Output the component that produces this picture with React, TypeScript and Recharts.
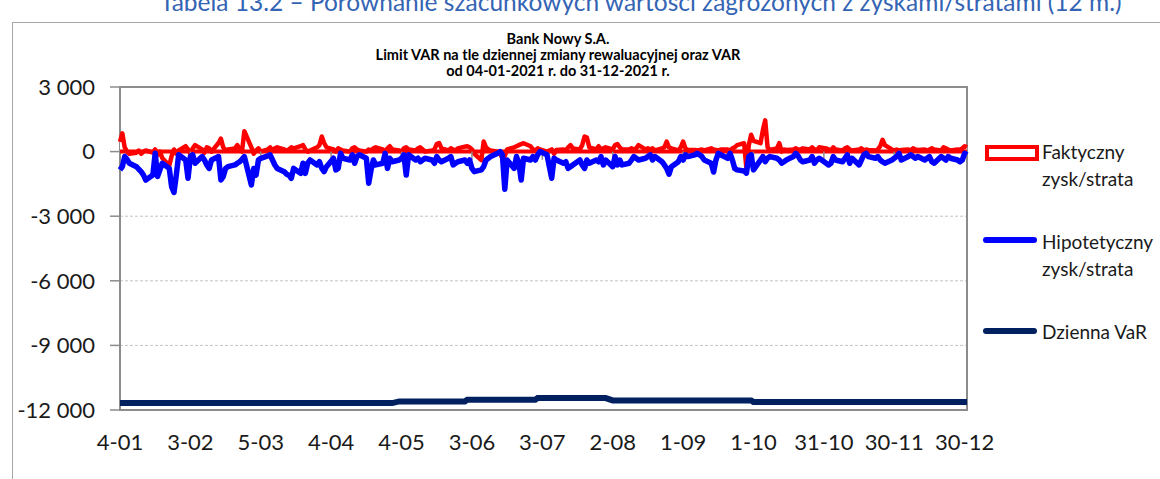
import React from 'react';
import {
  ComposedChart,
  Line,
  Area,
  XAxis,
  YAxis,
  CartesianGrid,
  ReferenceLine,
  ReferenceArea,
} from 'recharts';

// Faktyczny zysk/strata – daily values (weekdays 04-01-2021 … 31-12-2021)
const faktyczny: number[] = [
  450, 850, 200, 0, -100, -50, 50, -100, 0, 50, -50, 100, -150, 0, -300, -650, -200, 100, -100, 50,
  250, 100, -100, 150, 300, 100, -50, 200, 150, 0, 400, 600, 200, 50, 100, 150, 300, 100, 0, 950,
  200, -100, 50, 150, 0, 100, 200, 50, 150, 200, 100, 50,
  100, 200, 150, 250, 300, 100, 0, 50, 200, 300, 700, 400, 200, 100, 0, 150, 100, 50, 0, 150,
  200, 100, 50, 0, 100, 50, 150, 200, 100, 0, 150, 250, 100, 50, 0, 150, 200, 100, 50, 150,
  200, 100, 0, 50, 100, 350, 400, 150, 50, 150, 100, 50, 150,
  230, 250, 200, 100, -100, -400, 470, 200, 100, 50, 0, -100, -300, -200, 100, 200, 250, 300, 350, 390,
  250, 100, 50, 150, 100, 0, 50, 100, -100, 80, 100, 50, 200, 300, 150, 100, 300, 700, 650, 200,
  100, 250, 100, 150, 200, 100, 300, 350, 200, 100,
  100, 150, 100, 150, 300, 100, 150, 100, 150, 50, 150, 200, 470, 200, 150, 50, 200, 470, 150, 80,
  80, 50, 80, 100, 50, 150, 100, 80, 50, 100, 100, 50, 150, 200, 300, 390, -800, 300, 780, 500,
  390, 1000, 1450, 200, 80, 150, 390, 0, 100, 80, 100, 150, 100,
  100, 150, 100, 200, 100, 50, 200, 150, 100, 50, 200, 100, 50, 150, 200, 100, 50, 100, 150, 50,
  100, 80, 50, 100, 250, 550, 300, 100, 50, 100, 50, 80, 100, 50, 150, 100, 80, 100, 50, 100,
  150, 100, 50, 200, 150, 100, 50, 100, 80, 150, 250, 200,
];

// Hipotetyczny zysk/strata
const hipotetyczny: number[] = [
  -850, -700, -230, -360, -540, -700, -820, -930, -1090, -1320, -1090, -80, -1160, -850, -540, -780, -1630, -1900, -1090, -150,
  -390, -1240, -230, -150, -540, -230, -390, -620, -780, -390, -230, -1320, -1160, -780, -700, -620, -540, -470, -360, -230,
  -1550, -780, -1090, -390, -310, -200, -150, -390, -620, -780, -930, -1050,
  -1100, -1240, -780, -1010, -540, -1010, -540, -390, -620, -470, -780, -930, -700, -310, -850, -780, -80, -310, -390, -150,
  -540, -230, -150, -310, -1470, -850, -390, -620, -540, -80, -780, -310, -470, -390, -310, -150, -1090, -150, -390, -310,
  -470, -390, -310, -390, -540, -230, -390, -470, -310, -230, -620, -540, -470,
  -390, -540, -390, -780, -930, -850, -700, -390, -310, -230, -80, 0, -150, -1750, -390, -780, -230, -540, -1320, -310,
  -390, -230, -390, -150, 0, -150, -700, -1240, -310, -390, -540, -470, -780, -700, -620, -390, -620, -780, -390, -540,
  -390, -470, -230, -620, -390, -700, -230, -620, -390, -620,
  -540, -390, -230, -310, -390, -310, -230, -150, -390, -230, -470, -620, -780, -1050, -700, -470, -230, -390, -150, -230,
  -150, -80, -150, -230, -390, -540, -950, -390, -80, -150, -310, -80, -390, -780, -850, -900, -1000, -230, -150, -850,
  -390, -230, -470, -310, -230, -310, -390, -540, -470, -390, -230, -80, -200,
  -390, -470, -390, -230, -540, -390, -310, -540, -620, -540, -230, -390, -470, -310, -150, -540, -310, -620, -390, -150,
  -80, -230, -310, -230, -390, -470, -540, -390, -310, -230, -80, -390, -230, -150, -230, -310, -230, -390, -310, -230,
  -470, -540, -230, -310, -390, -230, -310, -390, -470, -390, -80, -150,
];

// Dzienna VaR – level per month (Jan … Dec)
const varByMonth: number[] = [
  -11680, -11680, -11680, -11680, -11600, -11520, -11445, -11555, -11555, -11630, -11630, -11630,
];

const xTickDays: number[] = [0, 30, 60, 90, 120, 150, 180, 210, 240, 270, 300, 330, 360];
const yTicks: number[] = [-12000, -9000, -6000, -3000, 0, 3000];

const START = Date.UTC(2021, 0, 4);
const DAY = 86400000;
const LAST_DAY = 361;

const tradingDays: number[] = [];
for (let d = 0; d <= LAST_DAY; d++) {
  const wd = new Date(START + d * DAY).getUTCDay();
  if (wd !== 0 && wd !== 6) tradingDays.push(d);
}

const data = tradingDays.map((t, i) => ({
  t,
  f: faktyczny[i],
  h: hipotetyczny[i],
  v: varByMonth[new Date(START + t * DAY).getUTCMonth()],
}));

const fmtDate = (t: number) => {
  const d = new Date(START + t * DAY);
  return `${d.getUTCDate()}-${String(d.getUTCMonth() + 1).padStart(2, '0')}`;
};

const fmtY = (v: number) => {
  if (v === 0) return '0';
  const s = String(Math.abs(v)).replace(/\B(?=(\d{3})+(?!\d))/g, ' ');
  return (v < 0 ? '-' : '') + s;
};

const FONT = 'Lato, "Open Sans", sans-serif';

export default function App() {
  return (
    <div
      style={{
        position: 'absolute',
        left: 0,
        top: 0,
        width: 1160,
        height: 479,
        overflow: 'hidden',
        background: '#fff',
        fontFamily: FONT,
      }}
    >
      {/* cut-off heading above the chart */}
      <div
        style={{
          position: 'absolute',
          left: 160,
          top: -13,
          whiteSpace: 'nowrap',
          fontSize: 24.5,
          color: '#3464B4',
          fontFamily: FONT,
        }}
      >
        Tabela 13.2 – Porównanie szacunkowych wartości zagrożonych z zyskami/stratami (12 m.)
      </div>

      {/* chart frame */}
      <div
        style={{
          position: 'absolute',
          left: 12,
          top: 22,
          width: 1200,
          height: 500,
          borderTop: '1px solid #a6a6a6',
          borderLeft: '1px solid #a6a6a6',
        }}
      />

      {/* chart title */}
      <div
        style={{
          position: 'absolute',
          left: 308,
          width: 500,
          top: 31,
          textAlign: 'center',
          fontWeight: 700,
          fontSize: 14.5,
          lineHeight: '16px',
          color: '#000',
        }}
      >
        <div>Bank Nowy S.A.</div>
        <div>Limit VAR na tle dziennej zmiany rewaluacyjnej oraz VAR</div>
        <div>od 04-01-2021 r. do 31-12-2021 r.</div>
      </div>

      <div style={{ position: 'absolute', left: 0, top: 0 }}>
        <ComposedChart
          width={1160}
          height={479}
          data={data}
          margin={{ top: 87, right: 193, bottom: 0, left: 0 }}
        >
          <CartesianGrid
            vertical={false}
            stroke="#c4c4c4"
            strokeDasharray="3 2"
          />
          <XAxis
            dataKey="t"
            type="number"
            domain={[0, LAST_DAY]}
            ticks={xTickDays}
            tickFormatter={fmtDate}
            axisLine={false}
            tickLine={false}
            tickSize={0}
            tickMargin={24}
            height={69}
            interval={0}
            tick={{ fontSize: 22, fill: '#1a1a1a', fontFamily: FONT }}
          />
          <YAxis
            type="number"
            domain={[-12000, 3000]}
            ticks={yTicks}
            tickFormatter={fmtY}
            width={120}
            axisLine={false}
            tickLine={{ stroke: '#8c8c8c', strokeWidth: 1.5 }}
            tickSize={10}
            tickMargin={15}
            interval={0}
            tick={{ fontSize: 22, fill: '#1a1a1a', fontFamily: FONT }}
          />
          <ReferenceArea
            x1={0}
            x2={LAST_DAY}
            y1={-12000}
            y2={3000}
            fill="none"
            stroke="#8c8c8c"
            strokeWidth={2}
          />
          <Area
            type="linear"
            dataKey="f"
            baseValue={0}
            stroke="#ff0000"
            strokeWidth={4.5}
            strokeLinejoin="round"
            fill="#ffffff"
            fillOpacity={1}
            dot={false}
            activeDot={false}
            isAnimationActive={false}
          />
          <ReferenceLine y={0} stroke="#ff0000" strokeWidth={4} />
          {xTickDays.slice(1, -1).map((d) => (
            <ReferenceLine
              key={d}
              segment={[
                { x: d, y: 0 },
                { x: d, y: -380 },
              ]}
              stroke="#8c8c8c"
              strokeWidth={1.5}
            />
          ))}
          <Line
            type="linear"
            dataKey="h"
            stroke="#0000ff"
            strokeWidth={5.5}
            strokeLinejoin="round"
            dot={false}
            activeDot={false}
            isAnimationActive={false}
          />
          <Line
            type="linear"
            dataKey="v"
            stroke="#002060"
            strokeWidth={6}
            dot={false}
            activeDot={false}
            isAnimationActive={false}
          />
        </ComposedChart>
      </div>

      {/* legend */}
      <div style={{ position: 'absolute', left: 983, top: 0, fontSize: 19, color: '#1a1a1a' }}>
        <div
          style={{
            position: 'absolute',
            left: 2,
            top: 145,
            width: 46,
            height: 8,
            border: '4px solid #ff0000',
            background: '#fff',
          }}
        />
        <div style={{ position: 'absolute', left: 59, top: 138, lineHeight: '27px', whiteSpace: 'nowrap' }}>
          Faktyczny
          <br />
          zysk/strata
        </div>
        <div
          style={{
            position: 'absolute',
            left: 0,
            top: 237,
            width: 54,
            height: 6,
            borderRadius: 3,
            background: '#0000ff',
          }}
        />
        <div style={{ position: 'absolute', left: 59, top: 228, lineHeight: '27px', whiteSpace: 'nowrap' }}>
          Hipotetyczny
          <br />
          zysk/strata
        </div>
        <div
          style={{
            position: 'absolute',
            left: 0,
            top: 328,
            width: 54,
            height: 6,
            borderRadius: 3,
            background: '#002060',
          }}
        />
        <div style={{ position: 'absolute', left: 59, top: 318, lineHeight: '27px', whiteSpace: 'nowrap' }}>
          Dzienna VaR
        </div>
      </div>
    </div>
  );
}
